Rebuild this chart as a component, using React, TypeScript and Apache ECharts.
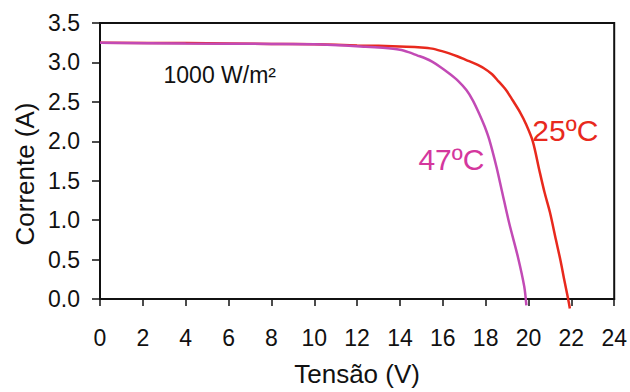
import React, { useEffect, useRef } from "react";
import * as echarts from "echarts";

const xTicks = [0, 2, 4, 6, 8, 10, 12, 14, 16, 18, 20, 22, 24];
const yTicks = [0, 0.5, 1, 1.5, 2, 2.5, 3, 3.5];

const curve25: [number, number][] = [
  [0, 3.25], [4, 3.245], [8, 3.235], [10, 3.23], [12, 3.215], [13, 3.21],
  [14.3, 3.2], [15.0, 3.19], [15.5, 3.175], [16.0, 3.14], [16.3, 3.115],
  [16.7, 3.075], [17.1, 3.03], [17.5, 2.985], [17.9, 2.93], [18.3, 2.85],
  [18.6, 2.76], [18.95, 2.65], [19.26, 2.52], [19.6, 2.37], [19.88, 2.22],
  [20.2, 2.0], [20.5, 1.64], [20.75, 1.35], [21.0, 1.1], [21.28, 0.75],
  [21.5, 0.48], [21.67, 0.24], [21.85, 0], [21.93, -0.12],
];

const curve47: [number, number][] = [
  [0, 3.25], [4, 3.24], [8, 3.235], [10, 3.23], [12.4, 3.2], [13.2, 3.185],
  [14.0, 3.16], [14.4, 3.13], [14.8, 3.09], [15.2, 3.05], [15.5, 3.01],
  [15.9, 2.94], [16.3, 2.86], [16.7, 2.77], [17.1, 2.65], [17.4, 2.52],
  [17.7, 2.35], [17.95, 2.19], [18.17, 2.02], [18.5, 1.68], [18.75, 1.38],
  [19.1, 0.96], [19.5, 0.54], [19.8, 0.16], [19.9, -0.08],
];

const annotations = [
  { text: "25ºC", at: [21.72, 2.14], color: "#e8291d", size: 30 },
  { text: "47ºC", at: [16.4, 1.775], color: "#d4379d", size: 30 },
  { text: "1000 W/m²", at: [5.59, 2.84], color: "#111111", size: 23 },
];

const FONT = "'Liberation Sans', Arial, Helvetica, sans-serif";

export default function App() {
  const ref = useRef<HTMLDivElement>(null);
  useEffect(() => {
    if (!ref.current) return;
    const chart = echarts.init(ref.current, null, { renderer: "svg" });
    chart.setOption({
      animation: false,
      backgroundColor: "#ffffff",
      textStyle: { fontFamily: FONT },
      grid: {
        left: 100,
        right: 15,
        top: 23,
        bottom: 93,
        show: true,
        borderColor: "#111111",
        borderWidth: 2,
        backgroundColor: "transparent",
      },
      xAxis: {
        type: "value",
        min: 0,
        max: 24,
        interval: 2,
        name: "Tensão (V)",
        nameLocation: "middle",
        nameGap: 62,
        nameTextStyle: { fontSize: 26, color: "#111111", fontFamily: FONT },
        axisLine: { show: true, onZero: false, lineStyle: { color: "#111111", width: 2 } },
        axisTick: { show: true, length: 7, lineStyle: { color: "#111111", width: 1.5 } },
        axisLabel: {
          fontSize: 23,
          color: "#111111",
          margin: 27,
          fontFamily: FONT,
          formatter: (v: number) => (xTicks.includes(v) ? String(v) : ""),
        },
        splitLine: { show: false },
      },
      yAxis: {
        type: "value",
        min: 0,
        max: 3.5,
        interval: 0.5,
        axisLine: { show: true, lineStyle: { color: "#111111", width: 2 } },
        axisTick: { show: true, length: 8, lineStyle: { color: "#111111", width: 1.5 } },
        axisLabel: {
          fontSize: 23,
          color: "#111111",
          margin: 20,
          fontFamily: FONT,
          formatter: (v: number) => (yTicks.includes(v) ? v.toFixed(1) : ""),
        },
        splitLine: { show: false },
      },
      series: [
        {
          type: "line",
          name: "25ºC",
          data: curve25,
          showSymbol: false,
          smooth: 0.3,
          clip: false,
          lineStyle: { color: "#e8291d", width: 2.5 },
          z: 2,
        },
        {
          type: "line",
          name: "47ºC",
          data: curve47,
          showSymbol: false,
          smooth: 0.3,
          clip: false,
          lineStyle: { color: "#c24ab5", width: 2.5 },
          z: 3,
        },
      ],
    });
    const graphics: any[] = annotations.map((a) => {
      const p = chart.convertToPixel({ gridIndex: 0 }, a.at) as number[];
      return {
        type: "text",
        x: p[0],
        y: p[1],
        style: {
          text: a.text,
          fill: a.color,
          fontSize: a.size,
          fontFamily: FONT,
          align: "center",
          verticalAlign: "middle",
        },
      };
    });
    graphics.push({
      type: "text",
      x: 25,
      y: 174,
      rotation: Math.PI / 2,
      style: {
        text: "Corrente (A)",
        fill: "#111111",
        fontSize: 26,
        fontFamily: FONT,
        align: "center",
        verticalAlign: "middle",
      },
    });
    chart.setOption({ graphic: graphics });
    return () => chart.dispose();
  }, []);
  return <div ref={ref} style={{ width: 630, height: 392, position: "absolute", left: 0, top: 0 }} />;
}
